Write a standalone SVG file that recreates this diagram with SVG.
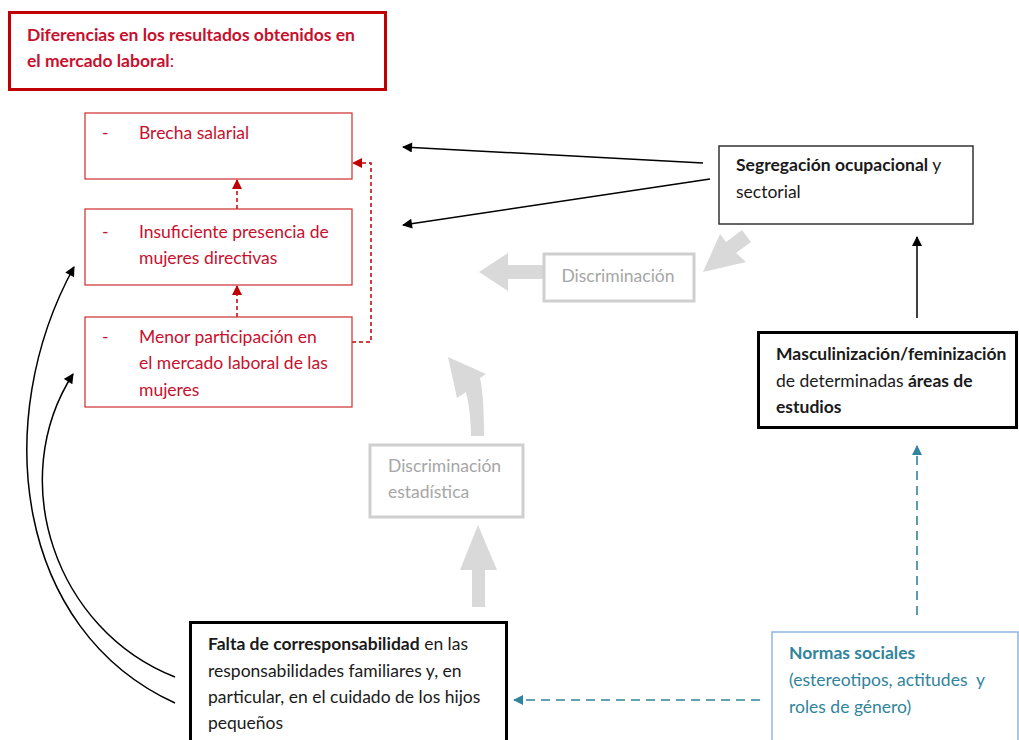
<svg xmlns="http://www.w3.org/2000/svg" width="1019" height="740" viewBox="0 0 1019 740">
<style>
text{font-family:Lato,"Liberation Sans",sans-serif;font-size:17.5px}
.red{fill:#c8102e}
.b{font-weight:bold}
.blk{fill:#1a1a1a}
.gt{fill:#a6a6a6}
.teal{fill:#31849b}
.rbox{fill:#fff;stroke:#d23c3c;stroke-width:1.3}
.gbox{fill:#fff;stroke:#cfcfcf;stroke-width:3}
.garr{fill:#d9d9d9}
.kline{fill:none;stroke:#000;stroke-width:1.5}
.rdash{fill:none;stroke:#c00000;stroke-width:1.5;stroke-dasharray:4 3}
.tdash{fill:none;stroke:#31849b;stroke-width:1.6;stroke-dasharray:9 6}
</style>
<defs>
<marker id="ak" viewBox="0 0 10 10" refX="9" refY="5" markerWidth="11" markerHeight="10" orient="auto" markerUnits="userSpaceOnUse"><path d="M0,0 L10,5 L0,10 Z" fill="#000"/></marker>
<marker id="ar" viewBox="0 0 10 10" refX="9" refY="5" markerWidth="10" markerHeight="10" orient="auto" markerUnits="userSpaceOnUse"><path d="M0,0 L10,5 L0,10 Z" fill="#c00000"/></marker>
<marker id="at" viewBox="0 0 10 10" refX="9" refY="5" markerWidth="10" markerHeight="10" orient="auto" markerUnits="userSpaceOnUse"><path d="M0,0 L10,5 L0,10 Z" fill="#31849b"/></marker>
</defs>
<rect width="1019" height="740" fill="#fff"/>

<g id="connectors">
<line class="kline" x1="703" y1="163" x2="403" y2="147" marker-end="url(#ak)"/>
<line class="kline" x1="710" y1="179" x2="403" y2="225" marker-end="url(#ak)"/>
<line class="kline" x1="917" y1="318" x2="917" y2="237" marker-end="url(#ak)"/>
<path class="kline" d="M175,703 C15,630 -10,420 74,267" marker-end="url(#ak)"/>
<path class="kline" d="M175,677 C55,630 5,480 73,374" marker-end="url(#ak)"/>
<line class="rdash" x1="237" y1="209" x2="237" y2="180" marker-end="url(#ar)"/>
<line class="rdash" x1="237" y1="317" x2="237" y2="286" marker-end="url(#ar)"/>
<path class="rdash" d="M352,342 H371 V163 H353" marker-end="url(#ar)"/>
<line class="tdash" x1="917" y1="615" x2="917" y2="446" marker-end="url(#at)"/>
<line class="tdash" x1="760" y1="700" x2="514" y2="700" marker-end="url(#at)"/>
<polygon class="garr" points="479,272 508,253 508,265 543,265 543,279 508,279 508,291"/>
<polygon class="garr" points="703,272 720,234 726,242 742,230 751,242 736,253 746,262"/>
<path class="garr" d="M471,436 L484,436 C484,410 483,392 480,378 L486,374 L448,357 L457,398 L466,392 C469,405 471,420 471,436 Z"/>
<polygon class="garr" points="478,525 497,570 485,570 485,607 472,607 472,570 460,570"/>
</g>

<g id="title">
<rect x="9.5" y="12.5" width="376" height="77" fill="#fff" stroke="#c00000" stroke-width="3"/>
<text x="27" y="41" class="red b">Diferencias en los resultados obtenidos en</text>
<text x="27" y="67" class="red"><tspan class="b">el mercado laboral</tspan>:</text>
</g>

<g id="brecha">
<rect class="rbox" x="85" y="113" width="267" height="66"/>
<text x="102" y="139" class="red">-</text>
<text x="139" y="139" class="red">Brecha salarial</text>
</g>

<g id="insuficiente">
<rect class="rbox" x="85" y="209" width="267" height="76"/>
<text x="102" y="238" class="red">-</text>
<text x="139" y="238" class="red">Insuficiente presencia de</text>
<text x="139" y="264" class="red">mujeres directivas</text>
</g>

<g id="menor">
<rect class="rbox" x="85" y="317" width="267" height="90"/>
<text x="102" y="343" class="red">-</text>
<text x="139" y="343" class="red">Menor participación en</text>
<text x="139" y="369" class="red">el mercado laboral de las</text>
<text x="139" y="396" class="red">mujeres</text>
</g>

<g id="segregacion">
<rect x="719" y="146" width="254" height="78" fill="#fff" stroke="#333" stroke-width="1.5"/>
<text x="736" y="171" class="blk"><tspan class="b">Segregación ocupacional</tspan> y</text>
<text x="736" y="198" class="blk">sectorial</text>
</g>

<g id="discriminacion">
<rect class="gbox" x="544" y="254" width="150" height="47"/>
<text x="618" y="282" class="gt" text-anchor="middle">Discriminación</text>
</g>

<g id="masculinizacion">
<rect x="758.5" y="332.5" width="258" height="95" fill="#fff" stroke="#000" stroke-width="3"/>
<text x="776" y="360" class="blk b">Masculinización/feminización</text>
<text x="776" y="387" class="blk">de determinadas <tspan class="b">áreas de</tspan></text>
<text x="776" y="413" class="blk b">estudios</text>
</g>

<g id="estadistica">
<rect class="gbox" x="370" y="445" width="153" height="72"/>
<text x="388" y="472" class="gt">Discriminación</text>
<text x="388" y="498" class="gt">estadística</text>
</g>

<g id="falta">
<rect x="190.5" y="622.5" width="316" height="125" fill="#fff" stroke="#000" stroke-width="3"/>
<text x="208" y="650" class="blk"><tspan class="b">Falta de corresponsabilidad</tspan> en las</text>
<text x="208" y="677" class="blk">responsabilidades familiares y, en</text>
<text x="208" y="703" class="blk">particular, en el cuidado de los hijos</text>
<text x="208" y="729" class="blk">pequeños</text>
</g>

<g id="normas">
<rect x="772" y="632" width="246" height="115" fill="#fff" stroke="#8eb4e3" stroke-width="1.5"/>
<text x="789" y="659" class="teal b">Normas sociales</text>
<text x="789" y="686" class="teal">(estereotipos, actitudes&#160; y</text>
<text x="789" y="713" class="teal">roles de género)</text>
</g>
</svg>
